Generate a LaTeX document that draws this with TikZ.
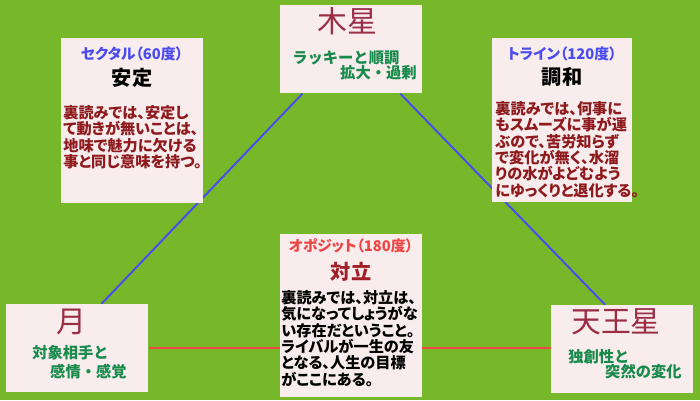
\documentclass[tikz,border=0pt]{standalone}
\usepackage{fontspec}
\setmainfont{Noto Sans CJK JP}[RawFeature=+palt]
\newfontfamily\kwfont{Noto Sans CJK JP}
\usetikzlibrary{calc,backgrounds}
\definecolor{field}{HTML}{76B82A}
\definecolor{card}{HTML}{F8ECEC}
\definecolor{planet}{HTML}{9B2D45}
\definecolor{keyword}{HTML}{178A4C}
\definecolor{aspblue}{HTML}{4B4BF2}
\definecolor{aspred}{HTML}{F04545}
\definecolor{reading}{HTML}{8E1A1E}
\definecolor{conflict}{HTML}{A01E28}

\begin{document}
\begin{tikzpicture}[x=0.02cm,y=-0.02cm,
    card/.style={fill=card,inner sep=0pt,anchor=north west,minimum width=2.84cm},
    planet/.style={text=planet,inner sep=0pt,font=\fontsize{17}{18}\selectfont},
    keyword/.style={text=keyword,inner sep=0pt,font=\kwfont\bfseries\fontsize{8.7}{9}\selectfont},
    aspect/.style={inner sep=0pt,font=\bfseries\fontsize{8.4}{9}\selectfont},
    meaning/.style={inner sep=0pt,font=\bfseries\fontsize{11.5}{12}\selectfont},
    reading/.style={align=left,anchor=north west,inner sep=0pt,font=\bfseries\fontsize{8.65}{9.3}\selectfont}]
  \useasboundingbox (0,0) rectangle (700,400);
  \begin{scope}[on background layer]
    \fill[field] (0,0) rectangle (700,400);
  \end{scope}

  % planets
  \node[card,minimum height=1.76cm] (jupiter) at (280,5) {};
  \node[planet] (jupname) at (347,21) {木星};
  \node[keyword,anchor=west] (jupkey1) at (292,58) {ラッキーと順調};
  \node[keyword,anchor=east] (jupkey2) at (417,73) {拡大・過剰};

  \node[card,minimum height=1.76cm] (moon) at (6,304) {};
  \node[planet] (moonname) at (71,322) {月};
  \node[keyword,anchor=west] (moonkey1) at (32,353) {対象相手と};
  \node[keyword,anchor=east] (moonkey2) at (127,372) {感情・感覚};

  \node[card,minimum height=1.76cm] (uranus) at (551,305) {};
  \node[planet] (uraname) at (616,322) {天王星};
  \node[keyword,anchor=west] (urakey1) at (568,357) {独創性と};
  \node[keyword,anchor=east] (urakey2) at (682,372) {突然の変化};

  % aspects
  \node[card,minimum height=3.30cm] (sextile) at (61,38) {};
  \node[aspect,text=aspblue] (sexname) at (132,54) {セクタル（60度）};
  \node[meaning] (sexmeaning) at (132,78) {安定};
  \node[reading,text=reading] (sexreading) at (63,105)
    {裏読みでは、安定し\\て動きが無いことは、\\地味で魅力に欠ける\\事と同じ意味を持つ。};

  \node[card,minimum width=2.80cm,minimum height=3.28cm] (trine) at (492,38) {};
  \node[aspect,text=aspblue] (trinename) at (562,54) {トライン（120度）};
  \node[meaning] (trinemeaning) at (562,77) {調和};
  \node[reading,text=reading] (trinereading) at (495,101)
    {裏読みでは、何事に\\もスムーズに事が運\\ぶので、苦労知らず\\で変化が無く、水溜\\りの水がよどむよう\\にゆっくりと退化する。};

  \node[card,minimum height=3.26cm] (opposition) at (280,234) {};
  \node[aspect,text=aspred] (oppname) at (351,246) {オポジット（180度）};
  \node[meaning,text=conflict] (oppmeaning) at (351,272) {対立};
  \node[reading] (oppreading) at (281,290)
    {裏読みでは、対立は、\\気になってしょうがな\\い存在だということ。\\ライバルが一生の友\\となる、人生の目標\\がここにある。};

  \begin{scope}[on background layer]
    \draw[aspblue,line width=1.1pt] ([xshift=0.48cm]moon.north) -- ([xshift=-0.98cm]jupiter.south);
    \draw[aspblue,line width=1.1pt] ([xshift=0.98cm]jupiter.south) -- ([xshift=-0.34cm]uranus.north);
    \draw[aspred,line width=1.1pt] (moon.east) -- (moon.east -| uranus.west);
  \end{scope}
\end{tikzpicture}
\end{document}
